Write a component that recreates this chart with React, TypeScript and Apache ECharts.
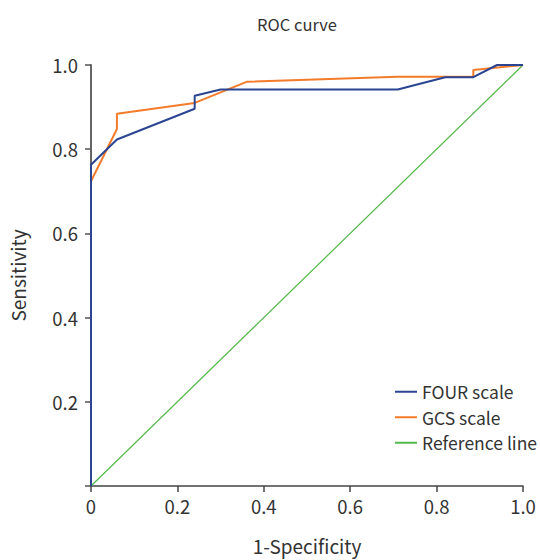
import React, { useEffect, useRef } from "react";
import * as echarts from "echarts";

const fourX = [0, 0, 0.06, 0.24, 0.24, 0.3, 0.71, 0.82, 0.885, 0.94, 1.0];
const fourY = [0, 0.763, 0.823, 0.896, 0.927, 0.942, 0.942, 0.971, 0.971, 1.0, 1.0];
const gcsX = [0, 0, 0.06, 0.06, 0.24, 0.36, 0.71, 0.885, 0.885, 1.0];
const gcsY = [0, 0.724, 0.848, 0.884, 0.91, 0.96, 0.972, 0.972, 0.988, 1.0];
const refX = [0, 1];
const refY = [0, 1];
const seriesNames = ["FOUR scale", "GCS scale", "Reference line"];
const colors = ["#2b4593", "#f47b2a", "#52b848"];

const zip = (xs: number[], ys: number[]) => xs.map((x, i) => [x, ys[i]]);

export default function App() {
  const ref = useRef<HTMLDivElement>(null);
  useEffect(() => {
    const chart = echarts.init(ref.current!, null, { renderer: "svg" });
    const font = "'Noto Sans CJK KR', 'Noto Sans', sans-serif";
    chart.setOption({
      animation: false,
      textStyle: { fontFamily: font },
      graphic: [
        {
          type: "text",
          x: 297,
          y: 24,
          style: {
            text: "ROC curve",
            fontSize: 16.5,
            fill: "#333",
            fontFamily: font,
            textAlign: "center",
            textVerticalAlign: "middle",
          },
        },
      ],
      grid: { left: 91, right: 17, top: 65, bottom: 73, containLabel: false },
      legend: {
        orient: "vertical",
        left: 390,
        top: 378,
        itemGap: 8,
        itemWidth: 22,
        itemHeight: 2,
        icon: "rect",
        textStyle: { fontSize: 17.5, color: "#333", fontFamily: font },
        data: [seriesNames[0], seriesNames[1], seriesNames[2]],
      },
      xAxis: {
        type: "value",
        min: 0,
        max: 1,
        interval: 0.2,
        name: "1-Specificity",
        nameLocation: "middle",
        nameGap: 50,
        nameTextStyle: { fontSize: 19, color: "#333", fontFamily: font },
        axisLine: { lineStyle: { color: "#444", width: 1.5 } },
        axisTick: { show: true, length: 6, lineStyle: { color: "#444", width: 1.5 } },
        axisLabel: {
          fontSize: 18.5,
          color: "#333",
          margin: 11,
          formatter: (v: number) => (v === 0 ? "0" : v.toFixed(1)),
        },
        splitLine: { show: false },
      },
      yAxis: {
        type: "value",
        min: 0,
        max: 1,
        interval: 0.2,
        name: "Sensitivity",
        nameLocation: "middle",
        nameGap: 64,
        nameTextStyle: { fontSize: 19, color: "#333", fontFamily: font },
        axisLine: { lineStyle: { color: "#666", width: 2 } },
        axisTick: { show: true, length: 6, lineStyle: { color: "#555", width: 1.5 } },
        axisLabel: {
          fontSize: 18.5,
          color: "#333",
          margin: 13,
          formatter: (v: number) => (v === 0 ? "" : v.toFixed(1)),
        },
        splitLine: { show: false },
      },
      series: [
        {
          name: seriesNames[2],
          type: "line",
          data: zip(refX, refY),
          symbol: "none",
          z: 1,
          itemStyle: { color: colors[2] },
          lineStyle: { color: colors[2], width: 1.2 },
        },
        {
          name: seriesNames[1],
          type: "line",
          data: zip(gcsX, gcsY),
          symbol: "none",
          z: 2,
          itemStyle: { color: colors[1] },
          lineStyle: { color: colors[1], width: 2 },
        },
        {
          name: seriesNames[0],
          type: "line",
          data: zip(fourX, fourY),
          symbol: "none",
          z: 3,
          itemStyle: { color: colors[0] },
          lineStyle: { color: colors[0], width: 2 },
        },
      ],
    });
    return () => chart.dispose();
  }, []);
  return (
    <div
      ref={ref}
      style={{ position: "absolute", left: 0, top: 0, width: 540, height: 560 }}
    />
  );
}
